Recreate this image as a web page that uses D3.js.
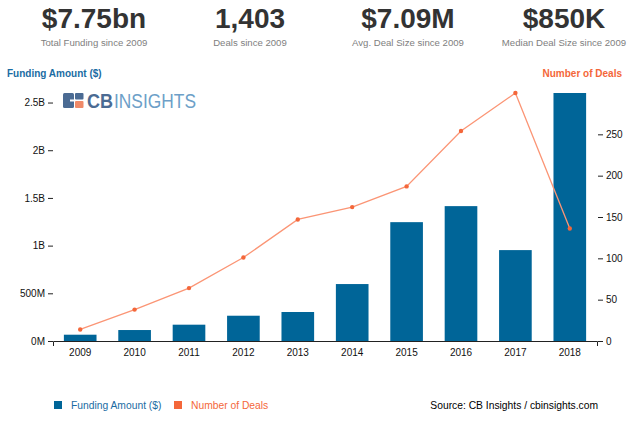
<!DOCTYPE html>
<html>
<head>
<meta charset="utf-8">
<script src="https://cdn.jsdelivr.net/npm/d3@7"></script>
<style>
  html, body { margin: 0; padding: 0; background: #fff; }
  svg { display: block; font-family: "Liberation Sans", Arial, sans-serif; }
</style>
</head>
<body>
<svg id="chart" width="638" height="425"></svg>
<script>
// ---- data ----
const years = ["2009","2010","2011","2012","2013","2014","2015","2016","2017","2018"];
const funding = [66e6, 115e6, 171e6, 265e6, 304e6, 597e6, 1246e6, 1414e6, 953e6, 2600e6];
const deals = [14, 38, 64, 101, 147, 162, 187, 254, 300, 136];
const fundingTicks = [0, 5e8, 1e9, 1.5e9, 2e9, 2.5e9];
const fundingTickLabels = ["0M", "500M", "1B", "1.5B", "2B", "2.5B"];
const dealTicks = [0, 50, 100, 150, 200, 250];
const stats = ["$7.75bn", "1,403", "$7.09M", "$850K"];
const statLabels = ["Total Funding since 2009", "Deals since 2009", "Avg. Deal Size since 2009", "Median Deal Size since 2009"];

const BAR = "#006598", LINE = "#fb9575", DOT = "#f4673a", TITLEBLUE = "#1a6ca3", TITLEORANGE = "#f4673a";
const svg = d3.select("#chart");

// header stats
const statX = [94, 250, 408, 564];
stats.forEach((s, i) => {
  svg.append("text").attr("x", statX[i]).attr("y", 28).attr("text-anchor", "middle")
    .attr("font-size", 28).attr("font-weight", "bold").attr("fill", "#333").text(s);
  svg.append("text").attr("x", statX[i]).attr("y", 46).attr("text-anchor", "middle")
    .attr("font-size", 9.6).attr("fill", "#808080").text(statLabels[i]);
});

// axis titles
svg.append("text").attr("x", 7).attr("y", 77).attr("font-size", 10).attr("font-weight", "bold")
  .attr("fill", TITLEBLUE).text("Funding Amount ($)");
svg.append("text").attr("x", 622).attr("y", 77).attr("text-anchor", "end").attr("font-size", 10)
  .attr("font-weight", "bold").attr("fill", TITLEORANGE).text("Number of Deals");

// scales
const x = d3.scaleBand().domain(years).range([53, 597]).paddingInner(0.4).paddingOuter(0.2);
const yL = d3.scaleLinear().domain([0, d3.max(funding)]).range([341, 93]);
const yR = d3.scaleLinear().domain([0, d3.max(deals)]).range([341, 93]);

// logo
const logo = svg.append("g");
logo.append("rect").attr("x", 63).attr("y", 93).attr("width", 11).attr("height", 15).attr("rx", 1.5).attr("fill", "#4b6b93");
logo.append("rect").attr("x", 70).attr("y", 99.5).attr("width", 4).attr("height", 2).attr("fill", "#fff");
logo.append("rect").attr("x", 75).attr("y", 93).attr("width", 8.5).attr("height", 6.5).attr("rx", 1).attr("fill", "#4b6b93");
logo.append("rect").attr("x", 75).attr("y", 101).attr("width", 8.5).attr("height", 7).attr("rx", 1).attr("fill", "#f08a68");
logo.append("text").attr("x", 87).attr("y", 108).attr("font-size", 20).attr("font-weight", "bold")
  .attr("fill", "#4b6b93").attr("textLength", 26).attr("lengthAdjust", "spacingAndGlyphs").text("CB");
logo.append("text").attr("x", 114).attr("y", 108).attr("font-size", 20)
  .attr("fill", "#6d9fc8").attr("textLength", 82).attr("lengthAdjust", "spacingAndGlyphs").text("INSIGHTS");

// bars
svg.append("g").selectAll("rect").data(years).join("rect")
  .attr("x", d => x(d)).attr("width", x.bandwidth())
  .attr("y", (d, i) => yL(funding[i])).attr("height", (d, i) => yL(0) - yL(funding[i]))
  .attr("fill", BAR);

// line
const line = d3.line().x((d, i) => x(years[i]) + x.bandwidth() / 2).y(d => yR(d));
svg.append("path").datum(deals).attr("d", line).attr("fill", "none").attr("stroke", LINE).attr("stroke-width", 1.3);
svg.append("g").selectAll("circle").data(deals).join("circle")
  .attr("cx", (d, i) => x(years[i]) + x.bandwidth() / 2).attr("cy", d => yR(d)).attr("r", 2.2).attr("fill", DOT);

// axes
const gx = svg.append("g").attr("transform", "translate(0,341)")
  .call(d3.axisBottom(x).tickSizeInner(0).tickSizeOuter(5).tickPadding(8));
const gl = svg.append("g").attr("transform", "translate(53,0)")
  .call(d3.axisLeft(yL).tickValues(fundingTicks).tickFormat((d, i) => fundingTickLabels[i]).tickSize(5).tickPadding(3));
gl.select(".domain").remove();
const gr = svg.append("g").attr("transform", "translate(598,0)")
  .call(d3.axisRight(yR).tickValues(dealTicks).tickSize(5).tickPadding(3));
gr.select(".domain").remove();
[gx, gl, gr].forEach(g => {
  g.selectAll("text").attr("font-size", 10).attr("fill", "#111").attr("font-family", "Liberation Sans, Arial, sans-serif");
  g.selectAll("line").attr("stroke", "#222");
  g.selectAll(".domain").attr("stroke", "#222");
});

// legend
svg.append("rect").attr("x", 54).attr("y", 401).attr("width", 8).attr("height", 8).attr("fill", BAR);
svg.append("text").attr("x", 71).attr("y", 409).attr("font-size", 10.3).attr("fill", TITLEBLUE).text("Funding Amount ($)");
svg.append("rect").attr("x", 174).attr("y", 401).attr("width", 8).attr("height", 8).attr("fill", "#f4673a");
svg.append("text").attr("x", 191).attr("y", 409).attr("font-size", 10.3).attr("fill", TITLEORANGE).text("Number of Deals");
svg.append("text").attr("x", 598).attr("y", 409).attr("text-anchor", "end").attr("font-size", 10.3)
  .attr("fill", "#000").text("Source: CB Insights / cbinsights.com");
</script>
</body>
</html>
